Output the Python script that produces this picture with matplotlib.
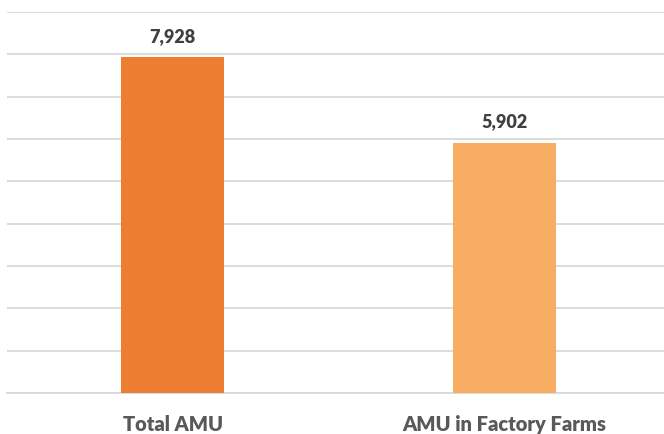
import matplotlib.pyplot as plt

categories = ['Total AMU', 'AMU in Factory Farms']
values = [7928, 5902]
bar_colors = ['#ED7D31', '#F7AE62']

plt.rcParams['font.family'] = ['Lato', 'DejaVu Sans']

fig = plt.figure(figsize=(6.64, 4.34), dpi=100)
ax = fig.add_axes([7 / 664, 1 - 393 / 434, 663 / 664, (393 - 12) / 434])

x = range(len(categories))
ax.bar(x, values, width=0.312, color=bar_colors, zorder=3)

for xi, v in zip(x, values):
    ax.text(xi, v + 300, f'{v:,}', ha='center', va='bottom',
            fontsize=13, fontweight='heavy', color='#404040')

ax.set_xlim(-0.5, 1.5)
ax.set_ylim(0, 9000)
ax.set_yticks(range(0, 9001, 1000))
ax.yaxis.grid(True, color='#D9D9D9', linewidth=1.3, zorder=0)
ax.tick_params(axis='y', left=False, labelleft=False)
ax.tick_params(axis='x', bottom=False, pad=12)
ax.set_xticks(list(x))
ax.set_xticklabels(categories, fontsize=14.5, fontweight='heavy', color='#595959')
for s in ['top', 'right', 'left']:
    ax.spines[s].set_visible(False)
ax.spines['bottom'].set_color('#D9D9D9')
ax.spines['bottom'].set_linewidth(1.3)

fig.savefig('out.png', dpi=100)
